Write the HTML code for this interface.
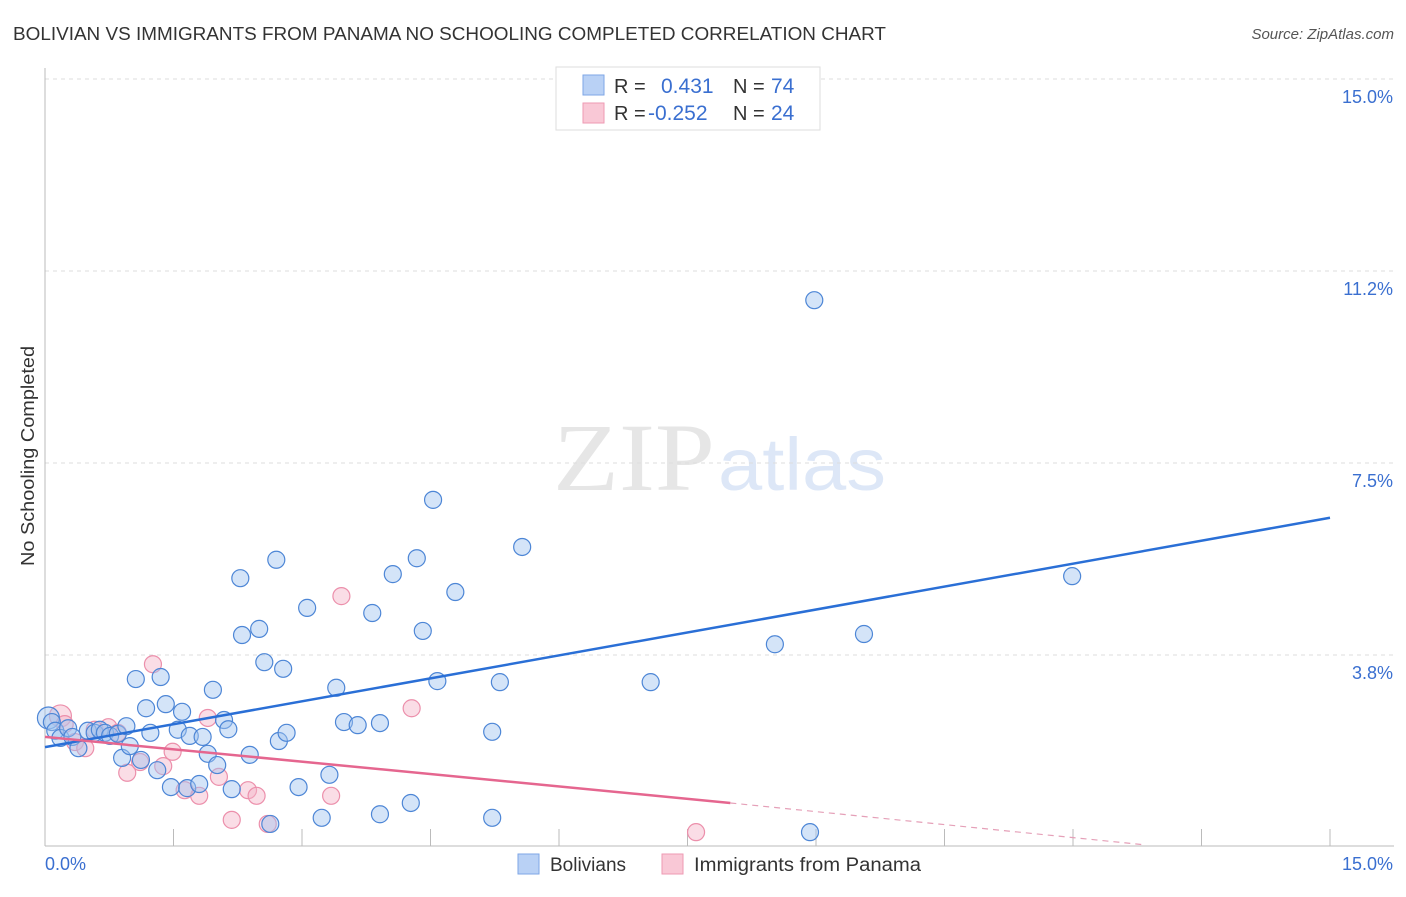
<!DOCTYPE html>
<html><head><meta charset="utf-8"><style>
body{margin:0;background:#fff;font-family:"Liberation Sans",sans-serif;}
</style></head><body>
<svg id="chart" width="1406" height="892" xmlns="http://www.w3.org/2000/svg" font-family="Liberation Sans, sans-serif">
<text x="13" y="40" font-size="18" fill="#333" textLength="873" lengthAdjust="spacingAndGlyphs">BOLIVIAN VS IMMIGRANTS FROM PANAMA NO SCHOOLING COMPLETED CORRELATION CHART</text>
<text x="1394" y="39" font-size="15" fill="#555" font-style="italic" text-anchor="end">Source: ZipAtlas.com</text>
<text transform="translate(34,456) rotate(-90)" font-size="18" fill="#333" text-anchor="middle" textLength="220" lengthAdjust="spacingAndGlyphs">No Schooling Completed</text>
<g opacity="0.18">
<text x="553" y="490" font-size="96" style="font-family:'Liberation Serif',serif" fill="#777" textLength="162" lengthAdjust="spacingAndGlyphs">ZIP</text>
<text x="718" y="490" font-size="74" fill="#4a7fd6" textLength="168" lengthAdjust="spacingAndGlyphs">atlas</text>
</g>
<g id="grid"></g><g id="axes"></g>
<g id="pinkpts"></g><g id="bluepts"></g><g id="lines"></g>
<g>
<rect x="556" y="67" width="264" height="63" fill="#fff" stroke="#ddd"/>
<rect x="583" y="75" width="21" height="20" fill="#b9d1f5" stroke="#7ea6e6"/>
<rect x="583" y="103" width="21" height="20" fill="#f9c8d6" stroke="#ee9ab3"/>
<text x="614" y="93" font-size="20" fill="#333">R =</text>
<text x="661" y="93" font-size="21" fill="#3a6fd0">0.431</text>
<text x="733" y="93" font-size="20" fill="#333">N =</text>
<text x="771" y="93" font-size="21" fill="#3a6fd0">74</text>
<text x="614" y="120" font-size="20" fill="#333">R =</text>
<text x="648" y="120" font-size="21" fill="#3a6fd0">-0.252</text>
<text x="733" y="120" font-size="20" fill="#333">N =</text>
<text x="771" y="120" font-size="21" fill="#3a6fd0">24</text>
</g>
<g>
<rect x="518" y="854" width="21" height="20" fill="#b9d1f5" stroke="#7ea6e6"/>
<text x="550" y="871" font-size="19" fill="#333">Bolivians</text>
<rect x="662" y="854" width="21" height="20" fill="#f9c8d6" stroke="#ee9ab3"/>
<text x="694" y="871" font-size="19" fill="#333" textLength="227" lengthAdjust="spacingAndGlyphs">Immigrants from Panama</text>
</g>
</svg>
<script>
const yTicks=[3.75,7.5,11.25,15];
const yTickLabels=["3.8%","7.5%","11.2%","15.0%"];
const xTickLabels=["0.0%","15.0%"];
const blueX=[0.04,0.08,0.12,0.18,0.27,0.32,0.39,0.50,0.58,0.64,0.70,0.76,0.85,0.90,0.95,0.99,1.06,1.12,1.18,1.23,1.31,1.35,1.41,1.47,1.55,1.60,1.66,1.69,1.80,1.84,1.90,1.96,2.01,2.09,2.14,2.18,2.28,2.30,2.39,2.50,2.56,2.63,2.70,2.73,2.78,2.82,2.96,3.06,3.23,3.32,3.40,3.49,3.65,3.82,3.91,3.91,4.06,4.27,4.34,4.41,4.53,4.58,4.79,5.22,5.22,5.31,5.57,7.07,8.52,8.93,8.98,9.56,11.99];
const blueY=[2.52,2.44,2.27,2.13,2.32,2.15,1.93,2.27,2.23,2.29,2.23,2.17,2.21,1.74,2.36,1.97,3.28,1.70,2.71,2.23,1.50,3.32,2.79,1.17,2.29,2.64,1.15,2.17,1.23,2.15,1.82,3.07,1.60,2.48,2.30,1.13,5.25,4.14,1.80,4.26,3.61,0.45,5.61,2.07,3.48,2.23,1.17,4.67,0.57,1.41,3.11,2.44,2.38,4.57,2.42,0.64,5.33,0.86,5.64,4.22,6.78,3.24,4.98,0.57,2.25,3.22,5.86,3.22,3.96,0.29,10.68,4.16,5.29];
const pinkX=[0.18,0.23,0.35,0.47,0.58,0.74,0.85,0.96,1.11,1.26,1.38,1.49,1.63,1.80,1.90,2.03,2.18,2.37,2.47,2.60,3.34,3.46,4.28,7.60];
const pinkY=[2.56,2.40,2.05,1.93,2.29,2.34,2.23,1.45,1.66,3.57,1.58,1.86,1.11,1.00,2.52,1.37,0.53,1.11,1.00,0.45,1.00,4.90,2.71,0.29];
const blueLine=[[0,1.95],[15,6.43]];
const pinkLine=[[0,2.15],[8.0,0.86]];
const pinkDash=[[8.0,0.86],[12.85,0.04]];
const NS="http://www.w3.org/2000/svg";
const sx=v=>45+v*(1285/15);
const sy=v=>847-v*(768/15);
function mk(t,p,a){const e=document.createElementNS(NS,t);for(const k in a)e.setAttribute(k,a[k]);p.appendChild(e);return e;}
const grid=document.getElementById('grid');
yTicks.forEach((t,i)=>{
 const l=mk('line',grid,{x1:45,x2:1394,y1:sy(t),y2:sy(t),stroke:'#ddd','stroke-dasharray':'4,4'});
 
 
 const tx=mk('text',grid,{x:1393,y:sy(t)+24,'font-size':18,fill:'#3a6fd0','text-anchor':'end'});
 tx.textContent=yTickLabels[i];
 
 
});
const axes=document.getElementById('axes');
const ya=mk('line',axes,{x1:45,x2:45,y1:68,y2:846,stroke:'#bbb'});


const xa=mk('line',axes,{x1:45,x2:1394,y1:846,y2:846,stroke:'#bbb'});


for(let i=1;i<=10;i++){
 const tk=mk('line',axes,{x1:sx(i*1.5),x2:sx(i*1.5),y1:829,y2:846,stroke:'#bbb'});
 
 
}
[[45,'start'],[1393,'end']].forEach((p,i)=>{
 const t=mk('text',axes,{x:p[0],y:870,'font-size':18,fill:'#3a6fd0','text-anchor':p[1]});
 t.textContent=xTickLabels[i];
 
 
});
const bp=document.getElementById('bluepts');
blueX.forEach((x,i)=>{
 const c=mk('circle',bp,{cx:sx(x),cy:sy(blueY[i]),r:i==0?11:8.5,fill:'rgba(160,195,240,0.45)',stroke:'#4d86d6','stroke-width':1.2});
 
 
});
const pp=document.getElementById('pinkpts');
pinkX.forEach((x,i)=>{
 const c=mk('circle',pp,{cx:sx(x),cy:sy(pinkY[i]),r:i==0?11:8.5,fill:'rgba(245,180,200,0.45)',stroke:'#ec8fab','stroke-width':1.2});
 
 
});
const ln=document.getElementById('lines');
const bl=mk('line',ln,{x1:sx(blueLine[0][0]),y1:sy(blueLine[0][1]),x2:sx(blueLine[1][0]),y2:sy(blueLine[1][1]),stroke:'#2a6fd6','stroke-width':2.5});


const pl=mk('line',ln,{x1:sx(pinkLine[0][0]),y1:sy(pinkLine[0][1]),x2:sx(pinkLine[1][0]),y2:sy(pinkLine[1][1]),stroke:'#e5668f','stroke-width':2.5});


const pd=mk('line',ln,{x1:sx(pinkDash[0][0]),y1:sy(pinkDash[0][1]),x2:sx(pinkDash[1][0]),y2:sy(pinkDash[1][1]),stroke:'#e5a0b8','stroke-width':1.2,'stroke-dasharray':'6,5'});


</script>
</body></html>
